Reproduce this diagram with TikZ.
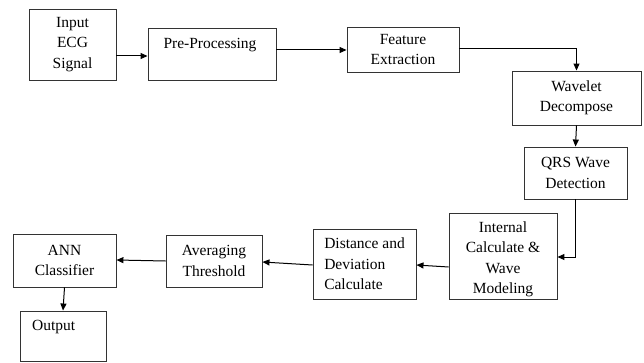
\documentclass[tikz,border=0pt]{standalone}
\usepackage{fontspec}
\setmainfont{Liberation Serif}
\usetikzlibrary{arrows.meta}
\begin{document}
\begin{tikzpicture}[x=1pt,y=-1pt,
  box/.style={draw=black!80,line width=0.9pt,inner sep=0pt,align=center,
    font=\fontsize{15.5}{20.5}\selectfont},
  txt/.style={inner sep=0pt,font=\fontsize{15.5}{20.5}\selectfont},
  arr/.style={draw=black,line width=1pt,-{Triangle[length=7pt,width=6pt]}}]
\useasboundingbox (0,0) rectangle (644,363);
\node[box,minimum width=87,minimum height=71] (inp) at (72.5,44.5) {Input\\ECG\\Signal};
\node[box,minimum width=128,minimum height=52] (pre) at (212,54) {};
\node[txt] (pret) at (210,45) {Pre-Processing};
\node[box,minimum width=112,minimum height=45] (fe) at (403,49.5) {Feature\\Extraction};
\node[box,minimum width=129,minimum height=54] (wd) at (576.5,98) {Wavelet\\Decompose};
\node[box,minimum width=103,minimum height=52] (qrs) at (575.5,173) {QRS Wave\\Detection};
\node[box,minimum width=108,minimum height=86] (ic) at (503,256) {};
\node[txt,align=center] (ict) at (503,259.5) {Internal\\Calculate \&\\Wave\\Modeling};
\node[box,minimum width=103,minimum height=70,align=left] (dd) at (364.5,264) {Distance and\\Deviation\\Calculate};
\node[box,minimum width=96,minimum height=52] (at) at (214,261) {Averaging\\Threshold};
\node[box,minimum width=103,minimum height=53] (ann) at (64.5,260.5) {ANN\\Classifier};
\node[box,minimum width=86,minimum height=50] (out) at (63,336) {};
\node[txt,anchor=west] (outt) at (32,327) {Output};
\draw[arr] (inp.east |- 0,56) -- (pre.west |- 0,56);
\draw[arr] (pre.east |- 0,50) -- (fe.west |- 0,50);
\draw[arr] (fe.east |- 0,49) -| (wd.north);
\draw[arr] (wd.south) -- (qrs.north);
\draw[arr] (qrs.south) |- (ic.east |- 0,257);
\draw[arr] (ic.west |- 0,267) -- (dd.east |- 0,265);
\draw[arr] (dd.west |- 0,265) -- (at.east |- 0,262);
\draw[arr] (at.west |- 0,261) -- (ann.east |- 0,260);
\draw[arr] (ann.south) -- (out.north);
\end{tikzpicture}
\end{document}
